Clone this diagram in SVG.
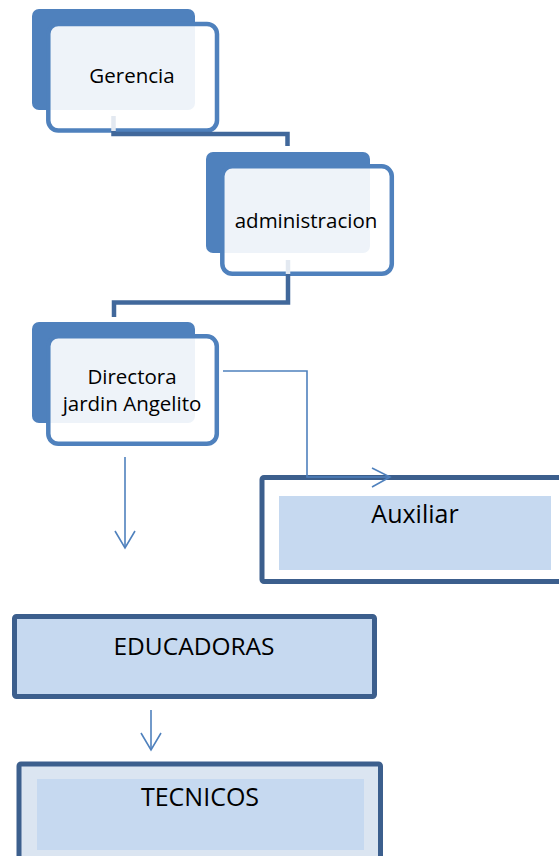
<svg xmlns="http://www.w3.org/2000/svg" width="559" height="856" viewBox="0 0 559 856">
<style>
.back{fill:#4f81bd}
.front{fill:#ffffff;fill-opacity:0.9;stroke:#4f81bd;stroke-width:4.5}
.elbow{fill:none;stroke:#41689b;stroke-width:4.5}
.stub{fill:none;stroke:#e3e9f1;stroke-width:4.5}
.thin{fill:none;stroke:#4f81bd;stroke-width:1.6}
.box{stroke:#3c5f8d;stroke-width:5}
.t{font-family:"Open Sans","Liberation Sans",sans-serif;fill:#000;text-anchor:middle}
</style>
<rect width="559" height="856" fill="#ffffff"/>
<g id="gerencia">
<rect class="back" x="32" y="9" width="163" height="101" rx="7"/>
<rect class="front" x="48.3" y="24" width="168.7" height="106.5" rx="10"/>
<text class="t" x="132" y="83" font-size="20.5">Gerencia</text>
</g>
<g id="administracion">
<rect class="back" x="206" y="152" width="164" height="101" rx="7"/>
<rect class="front" x="222.3" y="166.3" width="169.5" height="107.5" rx="10"/>
<text class="t" x="306" y="228" font-size="20.5">administracion</text>
</g>
<g id="directora">
<rect class="back" x="32" y="322" width="163" height="101" rx="7"/>
<rect class="front" x="48.3" y="336.3" width="168.5" height="107.5" rx="10"/>
<text class="t" x="132" y="384" font-size="20.5">Directora</text>
<text class="t" x="132" y="411" font-size="20.5">jardin Angelito</text>
</g>
<g id="auxiliar">
<rect class="box" x="262" y="477.5" width="320" height="104" rx="2" fill="#ffffff"/>
<rect x="279" y="496" width="272" height="74" fill="#c6d9f0"/>
<text class="t" x="415" y="523" font-size="25">Auxiliar</text>
</g>
<g id="educadoras">
<rect class="box" x="14.5" y="616.5" width="360" height="80" rx="2" fill="#c6d9f0"/>
<text class="t" x="194" y="655" font-size="24.5">EDUCADORAS</text>
</g>
<g id="tecnicos">
<rect class="box" x="19" y="764" width="361.5" height="120" rx="2" fill="#dbe5f1"/>
<rect x="37" y="779" width="327" height="71" fill="#c6d9f0"/>
<text class="t" x="200" y="806" font-size="25">TECNICOS</text>
</g>
<g id="connectors">
<path class="stub" d="M113.5,116 V131"/>
<path class="elbow" d="M113.5,131 V134 H287.5 V146"/>
<path class="stub" d="M288,260 V274"/>
<path class="elbow" d="M288,274 V302.5 H114 V317"/>
<path class="thin" d="M223,371 H307 V477 H389"/>
<path class="thin" d="M372,468 L390,477 L372,487"/>
<path class="thin" d="M125,457 V548"/>
<path class="thin" d="M115,531 L125,548 L135,531"/>
<path class="thin" d="M151,710 V750"/>
<path class="thin" d="M141,733 L151,750 L161,733"/>
</g>
</svg>
